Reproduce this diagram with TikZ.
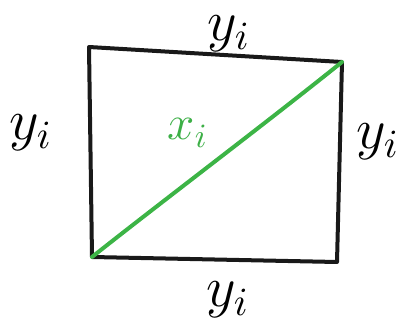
\documentclass[tikz,border=0pt]{standalone}
\begin{document}
\begin{tikzpicture}[x=1pt,y=-1pt,
  edge/.style={line width=4pt,line join=round,line cap=round,black!90},
  diag/.style={line width=4pt,line cap=round,draw={rgb,255:red,60;green,180;blue,70}},
  lab/.style={font=\Large,scale=4,inner sep=0pt},
  glab/.style={lab,scale=0.85,text={rgb,255:red,60;green,175;blue,70}}]
\useasboundingbox (0,0) rectangle (405,329);
\coordinate (tl) at (89,47);
\coordinate (tr) at (342,62);
\coordinate (br) at (337,262);
\coordinate (bl) at (92,257);
\draw[edge] (tl) -- (tr) -- (br) -- (bl) -- cycle;
\draw[diag] (bl) .. controls (160,203) and (270,120) .. (tr);
\node[lab] (top) at (229,34) {$y_i$};
\node[lab] (left) at (31,133) {$y_i$};
\node[lab] (right) at (378,142) {$y_i$};
\node[lab] (bottom) at (228,300) {$y_i$};
\node[glab] (x) at (188,133) {$x_i$};
\end{tikzpicture}
\end{document}
